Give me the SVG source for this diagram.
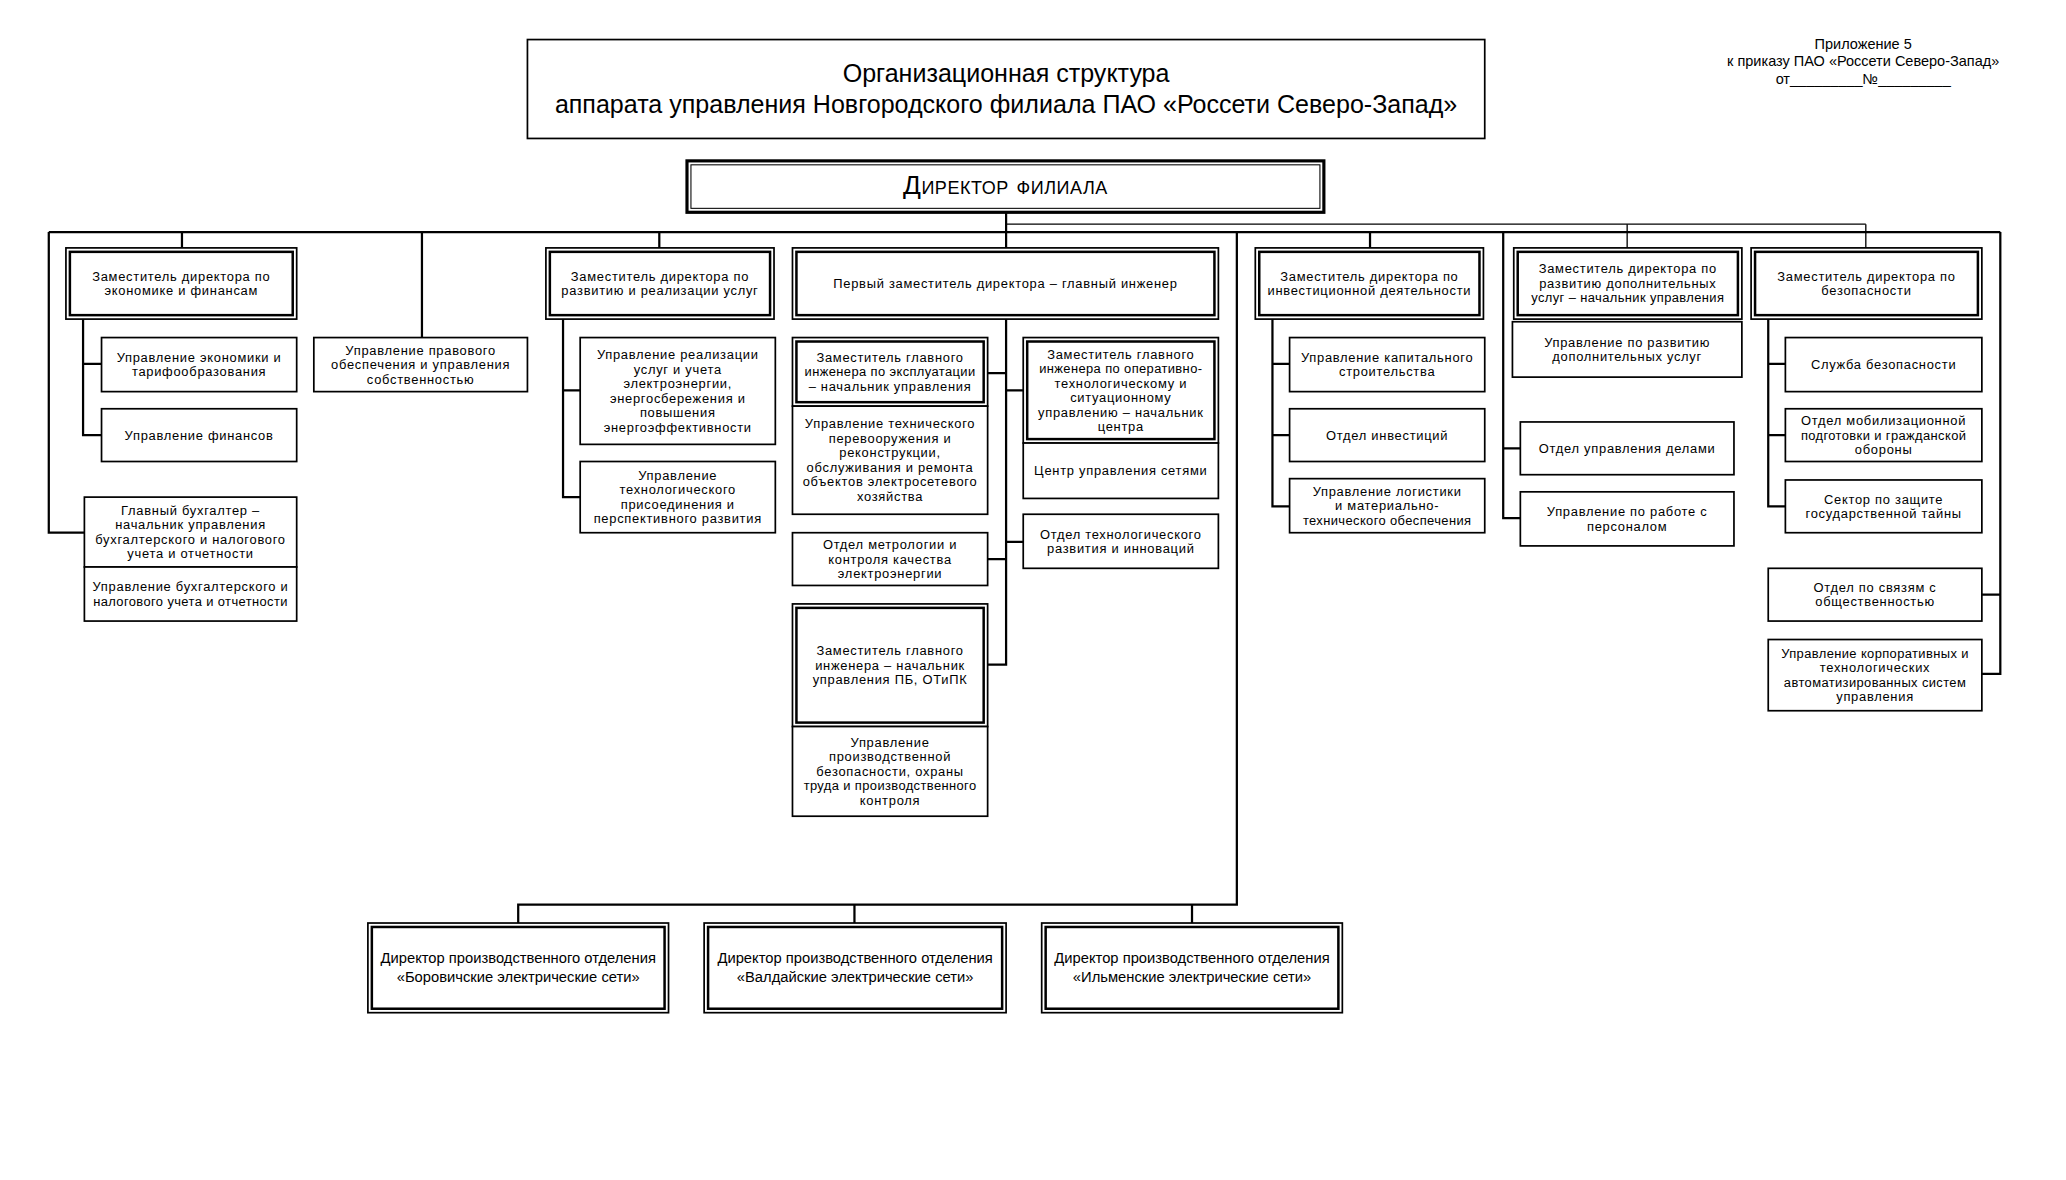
<svg xmlns="http://www.w3.org/2000/svg" width="2066" height="1180" viewBox="0 0 2066 1180">
<style>
.b{fill:#fff;stroke:#000;stroke-width:1.3}
.bi{fill:none;stroke:#000;stroke-width:1.9}
.t{font-family:"Liberation Sans",Arial,sans-serif;font-size:9.8px;text-anchor:middle;fill:#000;letter-spacing:0.55px}
.tb{font-family:"Liberation Sans",Arial,sans-serif;font-size:11.2px;text-anchor:middle;fill:#000}
.ta{font-family:"Liberation Sans",Arial,sans-serif;font-size:11px;text-anchor:middle;fill:#000}
.tt{font-family:"Liberation Sans",Arial,sans-serif;font-size:19px;text-anchor:middle;fill:#000}
.ln{stroke:#000;stroke-width:1.7;fill:none}
.th{stroke:#000;stroke-width:1;fill:none}
</style>
<rect x="0" y="0" width="2066" height="1180" fill="#fff"/>
<g transform="scale(1.3186)">
<g id="title">
<rect class="b" x="400" y="30" width="726" height="75"/>
<text class="tt" x="763" y="62">Организационная структура</text>
<text class="tt" x="763" y="86">аппарата управления Новгородского филиала ПАО «Россети Северо-Запад»</text>
</g>
<g id="appendix">
<text class="ta" x="1413" y="37">Приложение 5</text>
<text class="ta" x="1413" y="50">к приказу ПАО «Россети Северо-Запад»</text>
<text class="ta" x="1413" y="64">от_________№_________</text>
</g>
<g id="connectors">
<path class="ln" d="M763,161V188"/>
<path class="th" d="M763,170H1415"/>
<path class="ln" d="M37,176H1517"/>
<path class="ln" d="M37,176V404H64"/>
<path class="ln" d="M138,176V188"/>
<path class="ln" d="M320,176V256"/>
<path class="ln" d="M500,176V188"/>
<path class="ln" d="M938,176V686H393V700M648,686V700M904,686V700"/>
<path class="ln" d="M1039,176V188"/>
<path class="ln" d="M1140,176V393H1153M1140,340H1153"/>
<path class="th" d="M1234,170V188M1415,170V188"/>
<path class="ln" d="M1517,176V511H1503M1517,451H1503"/>
<path class="ln" d="M63,242V330H77M63,276H77"/>
<path class="ln" d="M427,242V377H440M427,296H440"/>
<path class="ln" d="M763,242V504H749M749,283H763M763,296H776M749,424H763M763,411H776"/>
<path class="ln" d="M965,242V384H978M965,276H978M965,330H978"/>
<path class="ln" d="M1341,242V384H1354M1341,276H1354M1341,330H1354"/>
</g>
<g id="director">
<rect x="521" y="122" width="483" height="39" fill="#fff" stroke="#000" stroke-width="2.4"/>
<rect x="524" y="125" width="477" height="33" fill="none" stroke="#000" stroke-width="0.8"/>
<text x="762.5" y="147" style="font-family:'Liberation Sans',Arial,sans-serif;font-size:20px;text-anchor:middle;font-variant:small-caps;letter-spacing:0.4px">Директор филиала</text>
</g>
<g id="dep_econ">
<rect class="b" x="50" y="188" width="175" height="54"/><rect class="bi" x="53" y="191" width="169" height="48"/>
<text class="t" x="137.5" y="213">Заместитель директора по</text><text class="t" x="137.5" y="224">экономике и финансам</text>
</g>
<g id="econ_tariff">
<rect class="b" x="77" y="256" width="148" height="41"/>
<text class="t" x="151" y="274.4">Управление экономики и</text><text class="t" x="151" y="285.4">тарифообразования</text>
</g>
<g id="finance">
<rect class="b" x="77" y="310" width="148" height="40"/>
<text class="t" x="151" y="333.4">Управление финансов</text>
</g>
<g id="chief_acc">
<rect class="b" x="64" y="377" width="161" height="53"/>
<text class="t" x="144.5" y="390.4">Главный бухгалтер –</text><text class="t" x="144.5" y="401.4">начальник управления</text><text class="t" x="144.5" y="412.4">бухгалтерского и налогового</text><text class="t" x="144.5" y="423.4">учета и отчетности</text>
</g>
<g id="acc_dept">
<rect class="b" x="64" y="430" width="161" height="41"/>
<text class="t" x="144.5" y="448.4">Управление бухгалтерского и</text><text class="t" x="144.5" y="459.4" style="letter-spacing:0.3px">налогового учета и отчетности</text>
</g>
<g id="legal">
<rect class="b" x="238" y="256" width="162" height="41"/>
<text class="t" x="319" y="268.9">Управление правового</text><text class="t" x="319" y="279.9">обеспечения и управления</text><text class="t" x="319" y="290.9">собственностью</text>
</g>
<g id="dep_dev">
<rect class="b" x="414" y="188" width="173" height="54"/><rect class="bi" x="417" y="191" width="167" height="48"/>
<text class="t" x="500.5" y="213">Заместитель директора  по</text><text class="t" x="500.5" y="224">развитию и реализации услуг</text>
</g>
<g id="sales">
<rect class="b" x="440" y="256" width="148" height="81"/>
<text class="t" x="514" y="272.4">Управление реализации</text><text class="t" x="514" y="283.4">услуг и учета</text><text class="t" x="514" y="294.4">электроэнергии,</text><text class="t" x="514" y="305.4">энергосбережения и</text><text class="t" x="514" y="316.4">повышения</text><text class="t" x="514" y="327.4">энергоэффективности</text>
</g>
<g id="tech_conn">
<rect class="b" x="440" y="350" width="148" height="54"/>
<text class="t" x="514" y="363.9">Управление</text><text class="t" x="514" y="374.9">технологического</text><text class="t" x="514" y="385.9">присоединения и</text><text class="t" x="514" y="396.9">перспективного развития</text>
</g>
<g id="first_dep">
<rect class="b" x="601" y="188" width="323" height="54"/><rect class="bi" x="604" y="191" width="317" height="48"/>
<text class="t" x="762.5" y="218.4">Первый заместитель директора – главный инженер</text>
</g>
<g id="dep_exploit">
<rect class="b" x="601" y="256" width="148" height="52"/><rect class="bi" x="604" y="259" width="142" height="46"/>
<text class="t" x="675" y="274.4">Заместитель главного</text><text class="t" x="675" y="285.4" style="letter-spacing:0.3px">инженера по эксплуатации</text><text class="t" x="675" y="296.4">– начальник управления</text>
</g>
<g id="tech_rearm">
<rect class="b" x="601" y="308" width="148" height="82"/>
<text class="t" x="675" y="324.9">Управление технического</text><text class="t" x="675" y="335.9">перевооружения и</text><text class="t" x="675" y="346.9">реконструкции,</text><text class="t" x="675" y="357.9">обслуживания и ремонта</text><text class="t" x="675" y="368.9">объектов электросетевого</text><text class="t" x="675" y="379.9">хозяйства</text>
</g>
<g id="metrology">
<rect class="b" x="601" y="404" width="148" height="40"/>
<text class="t" x="675" y="416.4">Отдел метрологии и</text><text class="t" x="675" y="427.4">контроля качества</text><text class="t" x="675" y="438.4">электроэнергии</text>
</g>
<g id="dep_safety">
<rect class="b" x="601" y="458" width="148" height="93"/><rect class="bi" x="604" y="461" width="142" height="87"/>
<text class="t" x="675" y="496.9">Заместитель главного</text><text class="t" x="675" y="507.9">инженера  – начальник</text><text class="t" x="675" y="518.9">управления ПБ, ОТиПК</text>
</g>
<g id="prod_safety">
<rect class="b" x="601" y="551" width="148" height="68"/>
<text class="t" x="675" y="566.4">Управление</text><text class="t" x="675" y="577.4">производственной</text><text class="t" x="675" y="588.4">безопасности, охраны</text><text class="t" x="675" y="599.4" style="letter-spacing:0.3px">труда и производственного</text><text class="t" x="675" y="610.4">контроля</text>
</g>
<g id="dep_oper">
<rect class="b" x="776" y="256" width="148" height="80"/><rect class="bi" x="779" y="259" width="142" height="74"/>
<text class="t" x="850" y="271.9">Заместитель главного</text><text class="t" x="850" y="282.9" style="letter-spacing:0.3px">инженера по оперативно-</text><text class="t" x="850" y="293.9">технологическому и</text><text class="t" x="850" y="304.9">ситуационному</text><text class="t" x="850" y="315.9">управлению – начальник</text><text class="t" x="850" y="326.9">центра</text>
</g>
<g id="ncc">
<rect class="b" x="776" y="336" width="148" height="42"/>
<text class="t" x="850" y="360.4">Центр управления сетями</text>
</g>
<g id="tech_dev">
<rect class="b" x="776" y="390" width="148" height="41"/>
<text class="t" x="850" y="408.4">Отдел технологического</text><text class="t" x="850" y="419.4">развития и инноваций</text>
</g>
<g id="dep_inv">
<rect class="b" x="952" y="188" width="173" height="54"/><rect class="bi" x="955" y="191" width="167" height="48"/>
<text class="t" x="1038.5" y="213">Заместитель директора по</text><text class="t" x="1038.5" y="224">инвестиционной деятельности</text>
</g>
<g id="cap_constr">
<rect class="b" x="978" y="256" width="148" height="41"/>
<text class="t" x="1052" y="274.4">Управление капитального</text><text class="t" x="1052" y="285.4">строительства</text>
</g>
<g id="invest">
<rect class="b" x="978" y="310" width="148" height="40"/>
<text class="t" x="1052" y="333.4">Отдел инвестиций</text>
</g>
<g id="logistics">
<rect class="b" x="978" y="363" width="148" height="41"/>
<text class="t" x="1052" y="375.9">Управление логистики</text><text class="t" x="1052" y="386.9">и материально-</text><text class="t" x="1052" y="397.9" style="letter-spacing:0.3px">технического обеспечения</text>
</g>
<g id="dep_add">
<rect class="b" x="1148" y="188" width="173" height="54"/><rect class="bi" x="1151" y="191" width="167" height="48"/>
<text class="t" x="1234.5" y="207.4">Заместитель директора по</text><text class="t" x="1234.5" y="218.4">развитию дополнительных</text><text class="t" x="1234.5" y="229.4" style="letter-spacing:0.3px">услуг – начальник управления</text>
</g>
<g id="add_services">
<rect class="b" x="1147" y="244" width="174" height="42"/>
<text class="t" x="1234" y="262.9">Управление по развитию</text><text class="t" x="1234" y="273.9">дополнительных услуг</text>
</g>
<g id="admin">
<rect class="b" x="1153" y="320" width="162" height="40"/>
<text class="t" x="1234" y="343.4">Отдел управления делами</text>
</g>
<g id="hr">
<rect class="b" x="1153" y="373" width="162" height="41"/>
<text class="t" x="1234" y="391.4">Управление по работе с</text><text class="t" x="1234" y="402.4">персоналом</text>
</g>
<g id="dep_sec">
<rect class="b" x="1328" y="188" width="175" height="54"/><rect class="bi" x="1331" y="191" width="169" height="48"/>
<text class="t" x="1415.5" y="213">Заместитель директора по</text><text class="t" x="1415.5" y="224">безопасности</text>
</g>
<g id="sec_service">
<rect class="b" x="1354" y="256" width="149" height="41"/>
<text class="t" x="1428.5" y="279.9">Служба безопасности</text>
</g>
<g id="mobil">
<rect class="b" x="1354" y="310" width="149" height="40"/>
<text class="t" x="1428.5" y="322.4">Отдел мобилизационной</text><text class="t" x="1428.5" y="333.4" style="letter-spacing:0.3px">подготовки и гражданской</text><text class="t" x="1428.5" y="344.4">обороны</text>
</g>
<g id="state_secret">
<rect class="b" x="1354" y="364" width="149" height="40"/>
<text class="t" x="1428.5" y="381.9">Сектор по защите</text><text class="t" x="1428.5" y="392.9">государственной тайны</text>
</g>
<g id="pr">
<rect class="b" x="1341" y="431" width="162" height="40"/>
<text class="t" x="1422" y="448.9">Отдел по связям с</text><text class="t" x="1422" y="459.9">общественностью</text>
</g>
<g id="corp">
<rect class="b" x="1341" y="485" width="162" height="54"/>
<text class="t" x="1422" y="498.9" style="letter-spacing:0.3px">Управление корпоративных и</text><text class="t" x="1422" y="509.9">технологических</text><text class="t" x="1422" y="520.9" style="letter-spacing:0.3px">автоматизированных систем</text><text class="t" x="1422" y="531.9">управления</text>
</g>
<g id="po_borovichi">
<rect class="b" x="279" y="700" width="228" height="68"/><rect class="bi" x="282" y="703" width="222" height="62"/>
<text class="tb" x="393" y="730.5">Директор производственного отделения</text><text class="tb" x="393" y="744.5">«Боровичские электрические сети»</text>
</g>
<g id="po_valdai">
<rect class="b" x="534" y="700" width="229" height="68"/><rect class="bi" x="537" y="703" width="223" height="62"/>
<text class="tb" x="648.5" y="730.5">Директор производственного отделения</text><text class="tb" x="648.5" y="744.5">«Валдайские электрические сети»</text>
</g>
<g id="po_ilmen">
<rect class="b" x="790" y="700" width="228" height="68"/><rect class="bi" x="793" y="703" width="222" height="62"/>
<text class="tb" x="904" y="730.5">Директор производственного отделения</text><text class="tb" x="904" y="744.5">«Ильменские электрические сети»</text>
</g>
</g>
</svg>
